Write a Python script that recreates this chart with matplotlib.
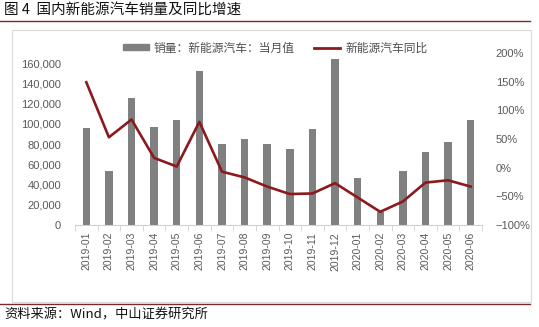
import matplotlib
matplotlib.use("Agg")
import matplotlib.pyplot as plt
from matplotlib.patches import Rectangle
from matplotlib.lines import Line2D
from matplotlib.ticker import FixedLocator, FuncFormatter

plt.rcParams['font.family'] = ['Noto Sans CJK SC', 'DejaVu Sans']

months = ["2019-01", "2019-02", "2019-03", "2019-04", "2019-05", "2019-06",
          "2019-07", "2019-08", "2019-09", "2019-10", "2019-11", "2019-12",
          "2020-01", "2020-02", "2020-03", "2020-04", "2020-05", "2020-06"]
sales = [96000, 53000, 126000, 97000, 104000, 152000,
         80000, 85000, 80000, 75000, 95000, 164000,
         46000, 13000, 53000, 72000, 82000, 104000]
yoy_pct = [149, 53, 84, 17, 2, 80,
           -7, -17, -33, -46, -45, -27,
           -52, -77, -59, -26, -22, -33]
left_ticks = [0, 20000, 40000, 60000, 80000, 100000, 120000, 140000, 160000]
right_ticks = [-100, -50, 0, 50, 100, 150, 200]

bar_label = "销量：新能源汽车：当月值"
line_label = "新能源汽车同比"
title = "图 4  国内新能源汽车销量及同比增速"
source = "资料来源：Wind，中山证券研究所"

W, H = 539, 327
fig = plt.figure(figsize=(W / 100, H / 100), dpi=100)

def fx(px):
    return px / W

def fy(py):
    return 1 - py / H

gray_txt = "#595959"
dark_red = "#8b1a1f"

# page decorations: rules, frame, caption and source
fig.add_artist(Line2D([0, fx(530)], [fy(20.5), fy(20.5)], color="#7a2a2a", lw=1.0))
fig.add_artist(Line2D([0, fx(530)], [fy(304), fy(304)], color="#7a2a2a", lw=1.0))
fig.add_artist(Rectangle((fx(12), fy(302)), fx(531) - fx(12), fy(30) - fy(302),
                         fill=False, edgecolor="#d9d9d9", lw=0.8))
fig.text(fx(4), fy(10), title, fontsize=10.5, color="#111111", va="center", ha="left")
fig.text(fx(4), fy(315), source, fontsize=9.5, color="#111111", va="center", ha="left")

# chart axes
ax = fig.add_axes([fx(75), fy(225), fx(482) - fx(75), fy(53) - fy(225)])
x = list(range(len(months)))
ax.bar(x, sales, width=0.33, color="#808080", zorder=2)
ax.set_xlim(-0.5, len(months) - 0.5)
ax.set_ylim(0, 170000)
ax.yaxis.set_major_locator(FixedLocator(left_ticks))
ax.yaxis.set_major_formatter(FuncFormatter(lambda v, p: f"{int(v):,}"))
ax.set_xticks(x)
ax.set_xticklabels(months, rotation=90, fontsize=7.5, color=gray_txt,
                   family=["Liberation Sans", "DejaVu Sans"])
ax.set_xticks([i - 0.5 for i in range(len(months) + 1)], minor=True)
ax.tick_params(axis="x", which="major", length=0, pad=5)
ax.tick_params(axis="x", which="minor", length=4, color="#d0d0d0", direction="out")
ax.tick_params(axis="y", length=0, labelsize=8, labelcolor=gray_txt, pad=10)
for lbl in ax.get_yticklabels():
    lbl.set_family(["Liberation Sans", "DejaVu Sans"])
for s in ["top", "right", "left"]:
    ax.spines[s].set_visible(False)
ax.spines["bottom"].set_color("#d0d0d0")
ax.patch.set_alpha(0)

ax2 = ax.twinx()
ax2.plot(x, yoy_pct, color=dark_red, lw=1.9, zorder=3)
ax2.set_ylim(-100, 200)
ax2.yaxis.set_major_locator(FixedLocator(right_ticks))
ax2.yaxis.set_major_formatter(FuncFormatter(lambda v, p: f"{int(v)}%".replace("-", "\u2212")))
ax2.tick_params(axis="y", length=0, labelsize=8, labelcolor=gray_txt, pad=10)
for lbl in ax2.get_yticklabels():
    lbl.set_family(["Liberation Sans", "DejaVu Sans"])
for s in ["top", "right", "left", "bottom"]:
    ax2.spines[s].set_visible(False)

# legend
handles = [Rectangle((0, 0), 1, 1, color="#808080"),
           Line2D([], [], color=dark_red, lw=2)]
fig.legend(handles, [bar_label, line_label], loc="center",
           bbox_to_anchor=(fx(275), fy(48)), ncol=2, frameon=False,
           fontsize=8.5, handlelength=2.2, handleheight=0.4, columnspacing=1.7,
           handletextpad=0.4, labelcolor="#505050")

fig.savefig("out.png", dpi=100)
